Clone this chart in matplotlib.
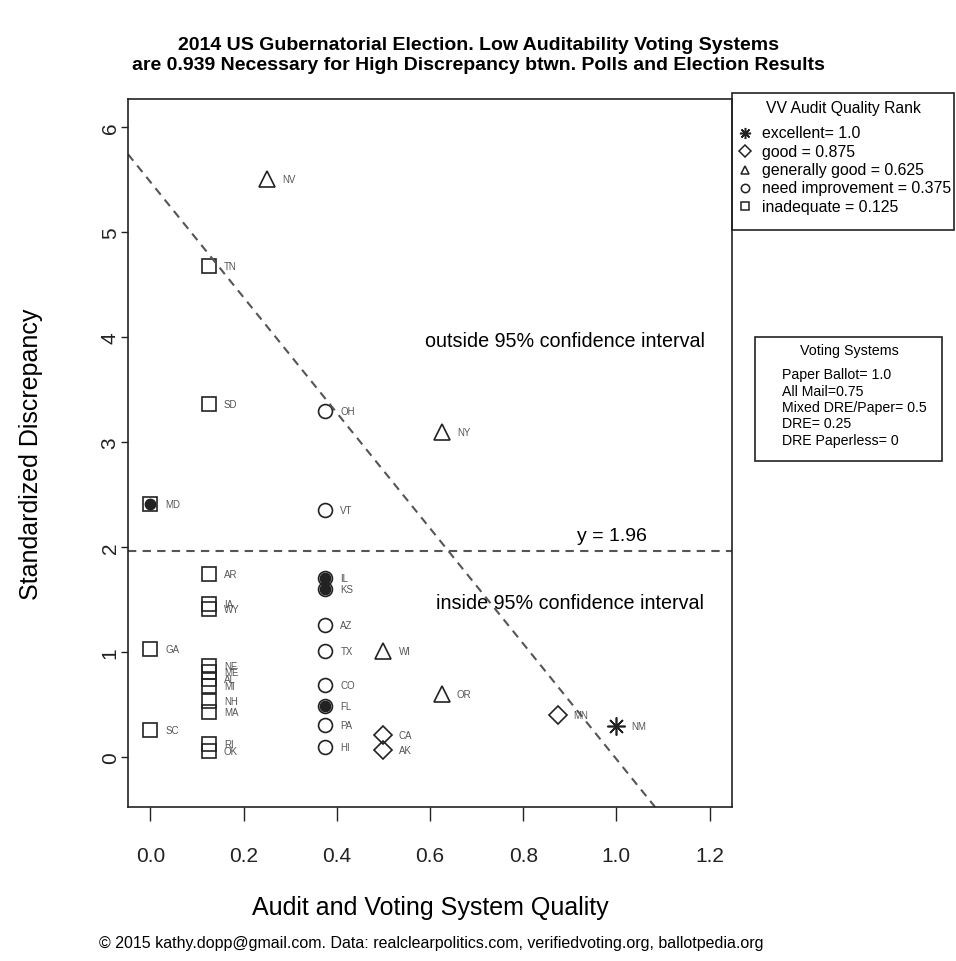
import matplotlib.pyplot as plt
from matplotlib.patches import Rectangle
from matplotlib.lines import Line2D

plt.rcParams['font.family'] = ['Liberation Sans', 'DejaVu Sans']

# states with audit/voting quality score (x) and standardized discrepancy (y)
states = ['NV', 'TN', 'SD', 'OH', 'NY', 'MD', 'VT', 'AR', 'IL', 'KS', 'IA', 'WY',
          'AZ', 'GA', 'TX', 'WI', 'NE', 'ME', 'AL', 'MI', 'NH', 'MA', 'CO', 'OR',
          'FL', 'MN', 'PA', 'NM', 'SC', 'CA', 'HI', 'RI', 'OK', 'AK']
quality = [0.25, 0.125, 0.125, 0.375, 0.625, 0.0, 0.375, 0.125, 0.375, 0.375, 0.125, 0.125,
           0.375, 0.0, 0.375, 0.5, 0.125, 0.125, 0.125, 0.125, 0.125, 0.125, 0.375, 0.625,
           0.375, 0.875, 0.375, 1.0, 0.0, 0.5, 0.375, 0.125, 0.125, 0.5]
discrepancy = [5.51, 4.68, 3.36, 3.30, 3.10, 2.41, 2.35, 1.74, 1.71, 1.60, 1.46, 1.41,
               1.26, 1.03, 1.01, 1.01, 0.87, 0.81, 0.74, 0.68, 0.53, 0.43, 0.69, 0.60,
               0.49, 0.40, 0.31, 0.30, 0.26, 0.21, 0.10, 0.12, 0.06, 0.07]
audit_rank = ['gen', 'inad', 'inad', 'need', 'gen', 'inad', 'need', 'inad', 'need', 'need', 'inad', 'inad',
              'need', 'inad', 'need', 'gen', 'inad', 'inad', 'inad', 'inad', 'inad', 'inad', 'need', 'gen',
              'need', 'good', 'need', 'exc', 'inad', 'good', 'need', 'inad', 'inad', 'good']
filled_states = ['MD', 'IL', 'KS', 'FL']

rank_order = ['exc', 'good', 'gen', 'need', 'inad']
rank_text = ['excellent= 1.0', 'good = 0.875', 'generally good = 0.625',
             'need improvement = 0.375', 'inadequate = 0.125']
voting_systems = ['Paper Ballot= 1.0', 'All Mail=0.75', 'Mixed DRE/Paper= 0.5',
                  'DRE= 0.25', 'DRE Paperless= 0']

fit_intercept = 5.48
fit_slope = -5.5
z_crit = 1.96

markers = {'exc': (8, 2, 0), 'good': 'D', 'gen': '^', 'need': 'o', 'inad': 's'}
msizes = {'exc': 13, 'good': 9, 'gen': 11, 'need': 10, 'inad': 10}

W, H = 956, 962
fig = plt.figure(figsize=(W / 100, H / 100), dpi=100)
ax = fig.add_axes([128 / W, 1 - 808 / H, 604 / W, 708 / H])

def fx(px):
    return px / W

def fy(py):
    return 1 - py / H

for r in rank_order:
    xs = [q for q, a in zip(quality, audit_rank) if a == r]
    ys = [d for d, a in zip(discrepancy, audit_rank) if a == r]
    ax.plot(xs, ys, ls='none', marker=markers[r], ms=msizes[r], mfc='none',
            mec='#222222', mew=1.2)

for s, q, d in zip(states, quality, discrepancy):
    if s in filled_states:
        ax.plot(q, d, 'o', ms=7.5, color='#222222')
    ax.annotate(s, (q, d), xytext=(11, 0), textcoords='offset points',
                fontsize=7, color='#555555', va='center', ha='left')

ax.axline((0, fit_intercept), slope=fit_slope, color='#555555', lw=1.5, ls=(0, (4, 3)))
ax.axhline(z_crit, color='#555555', lw=1.5, ls=(0, (4, 3)))

ax.text(0.99, z_crit + 0.15, 'y = 1.96', fontsize=14, ha='center', va='center')
ax.text(0.89, 3.97, 'outside 95% confidence interval', fontsize=14.2, ha='center', va='center')
ax.text(0.90, 1.47, 'inside 95% confidence interval', fontsize=14.2, ha='center', va='center')

ax.set_xlim(-0.048, 1.248)
ax.set_ylim(-0.476, 6.27)
ax.set_xticks([0.0, 0.2, 0.4, 0.6, 0.8, 1.0, 1.2])
ax.set_xticklabels(['0.0', '0.2', '0.4', '0.6', '0.8', '1.0', '1.2'])
ax.set_yticks(range(7))
ax.set_yticklabels([str(i) for i in range(7)], rotation=90, va='center')
ax.tick_params(direction='out', width=1, labelsize=15, colors='#222222')
ax.tick_params(axis='x', length=10, pad=18)
ax.tick_params(axis='y', length=5, pad=1)
for sp in ax.spines.values():
    sp.set_linewidth(1.2)
    sp.set_color('#222222')

ax.set_xlabel('Audit and Voting System Quality', fontsize=18)
ax.xaxis.set_label_coords(0.5, -0.125)
ax.set_ylabel('Standardized Discrepancy', fontsize=18)
ax.yaxis.set_label_coords(-0.14, 0.5)

fig.text(0.5, fy(46), '2014 US Gubernatorial Election. Low Auditability Voting Systems',
         fontsize=14, fontweight='bold', ha='center', va='center')
fig.text(0.5, fy(66), 'are 0.939 Necessary for High Discrepancy btwn. Polls and Election Results',
         fontsize=14, fontweight='bold', ha='center', va='center')
fig.text(fx(431), fy(944),
         '\u00a9 2015 kathy.dopp@gmail.com. Data: realclearpolitics.com, verifiedvoting.org, ballotpedia.org',
         fontsize=11.5, ha='center', va='center')

# legend 1: audit quality rank
fig.patches.append(Rectangle((fx(732), fy(231)), fx(954) - fx(732), fy(94) - fy(231),
                             transform=fig.transFigure, fill=False, lw=1.2, ec='#222222'))
fig.text(fx(843), fy(108), 'VV Audit Quality Rank', fontsize=11.3, ha='center', va='center')
for i, (r, t) in enumerate(zip(rank_order, rank_text)):
    yy = fy(134 + i * 18.3)
    fig.lines.append(Line2D([fx(745)], [yy], transform=fig.transFigure, ls='none',
                            marker=markers[r], ms=6 if r != 'exc' else 8, mfc='none',
                            mec='#222222', mew=1.1))
    fig.text(fx(762), yy, t, fontsize=11.4, ha='left', va='center')

# legend 2: voting systems
fig.patches.append(Rectangle((fx(755), fy(462)), fx(942) - fx(755), fy(338) - fy(462),
                             transform=fig.transFigure, fill=False, lw=1.2, ec='#222222'))
fig.text(fx(849), fy(351), 'Voting Systems', fontsize=10.3, ha='center', va='center')
for i, t in enumerate(voting_systems):
    fig.text(fx(782), fy(375 + i * 16.5), t, fontsize=10.2, ha='left', va='center')

fig.savefig('out.png', dpi=100)
